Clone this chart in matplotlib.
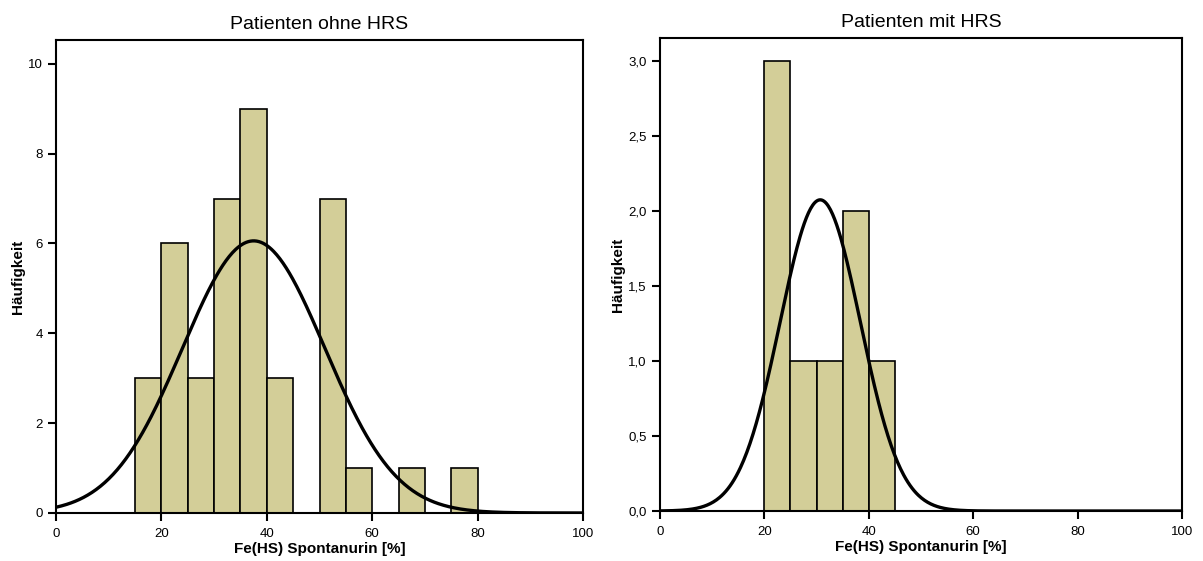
import numpy as np
import matplotlib.pyplot as plt

plt.rcParams['font.family'] = ['Liberation Sans', 'DejaVu Sans']

# bin edges (width 5) and counts per bin
edges_ohne = [15, 20, 25, 30, 35, 40, 45, 50, 55, 60, 65, 70, 75, 80]
counts_ohne = [3, 6, 3, 7, 9, 3, 0, 7, 1, 0, 1, 0, 1]
mean_ohne, sd_ohne = 37.5, 13.5

edges_mit = [20, 25, 30, 35, 40, 45]
counts_mit = [3, 1, 1, 2, 1]
mean_mit, sd_mit = 30.7, 7.7

bar_color = '#d3ce98'


def panel(ax, edges, counts, mean, sd, title, ymax, yticks, ylabels):
    edges = np.array(edges, dtype=float)
    counts = np.array(counts)
    width = np.diff(edges)
    mask = counts > 0
    ax.bar(edges[:-1][mask], counts[mask], width=width[mask], align='edge',
           color=bar_color, edgecolor='black', linewidth=1.2, zorder=2)
    # fitted normal curve scaled to counts
    x = np.linspace(0, 100, 500)
    scale = counts.sum() * width[0]
    y = scale / (sd * np.sqrt(2 * np.pi)) * np.exp(-0.5 * ((x - mean) / sd) ** 2)
    ax.plot(x, y, color='black', linewidth=2.4, zorder=3)
    ax.set_xlim(0, 100)
    ax.set_ylim(0, ymax)
    ax.set_xticks([0, 20, 40, 60, 80, 100])
    ax.set_yticks(yticks)
    ax.set_yticklabels(ylabels)
    ax.tick_params(direction='out', length=6, width=1.5, labelsize=9.5,
                   top=False, right=False)
    ax.tick_params(axis='x', pad=5)
    for s in ax.spines.values():
        s.set_linewidth(1.5)
    ax.set_title(title, fontsize=14, pad=8)
    ax.set_xlabel('Fe(HS) Spontanurin [%]', fontsize=11, fontweight='bold', labelpad=1)
    ax.set_ylabel('Häufigkeit', fontsize=11, fontweight='bold', labelpad=2)


fig = plt.figure(figsize=(12.03, 5.61), dpi=100)
ax1 = fig.add_axes([0.0466, 0.0856, 0.438, 0.8431])
ax2 = fig.add_axes([0.5486, 0.0891, 0.4339, 0.8431])

panel(ax1, edges_ohne, counts_ohne, mean_ohne, sd_ohne, 'Patienten ohne HRS',
      10.53, [0, 2, 4, 6, 8, 10], ['0', '2', '4', '6', '8', '10'])
yt = [0, 0.5, 1.0, 1.5, 2.0, 2.5, 3.0]
panel(ax2, edges_mit, counts_mit, mean_mit, sd_mit, 'Patienten mit HRS',
      3.15, yt, [f'{v:.1f}'.replace('.', ',') for v in yt])

fig.savefig('out.png', dpi=100)
